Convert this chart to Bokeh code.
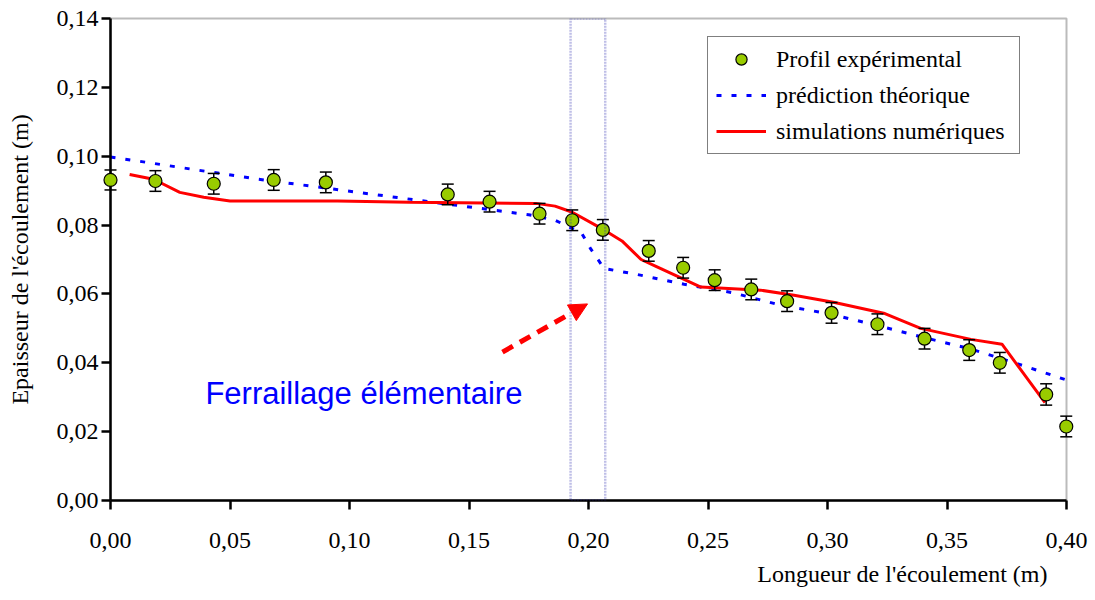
from bokeh.plotting import figure
from bokeh.models import (Range1d, FixedTicker, CustomJSTickFormatter, Legend, LegendItem,
                          Label, Arrow, NormalHead, BoxAnnotation, Title, ColumnDataSource)
from bokeh.embed import file_html
from bokeh.resources import INLINE

# ---------------- data ----------------
exp_x = [0.0, 0.0188, 0.0432, 0.0683, 0.0901, 0.1411, 0.1586, 0.1795, 0.1932, 0.2060, 0.2252,
         0.2396, 0.2528, 0.2681, 0.2831, 0.3017, 0.3209, 0.3406, 0.3593, 0.3721, 0.3915, 0.3999]
exp_y = [0.0931, 0.0928, 0.0920, 0.0931, 0.0924, 0.0889, 0.0868, 0.0833, 0.0814, 0.0786, 0.0725,
         0.0676, 0.0640, 0.0613, 0.0579, 0.0545, 0.0512, 0.0470, 0.0437, 0.0400, 0.0308, 0.0215]
exp_err = [0.0029, 0.0030, 0.0030, 0.0030, 0.0030, 0.0030, 0.0030, 0.0030, 0.0030, 0.0030, 0.0030,
           0.0030, 0.0030, 0.0030, 0.0030, 0.0030, 0.0030, 0.0030, 0.0030, 0.0030, 0.0031, 0.0030]

theory_x = [0.0, 0.06, 0.12, 0.175, 0.186, 0.197, 0.201, 0.2065, 0.22, 0.24, 0.26, 0.28, 0.30,
            0.32, 0.34, 0.36, 0.38, 0.40]
theory_y = [0.0998, 0.0935, 0.0880, 0.0830, 0.0814, 0.0778, 0.0730, 0.0674, 0.0657, 0.0628, 0.0604,
            0.0568, 0.0543, 0.0510, 0.0474, 0.0440, 0.0396, 0.0350]

sim_x = [0.008, 0.018, 0.029, 0.039, 0.050, 0.095, 0.125, 0.178, 0.186, 0.193, 0.205, 0.214,
         0.222, 0.228, 0.240, 0.247, 0.272, 0.286, 0.303, 0.324, 0.339, 0.360, 0.373, 0.391]
sim_y = [0.0947, 0.0933, 0.0895, 0.0881, 0.0870, 0.0870, 0.0866, 0.0863, 0.0855, 0.0838, 0.0792,
         0.0754, 0.0700, 0.0681, 0.0642, 0.0620, 0.0611, 0.0596, 0.0575, 0.0543, 0.0500, 0.0468,
         0.0454, 0.0284]

x_ticks = [0.0, 0.05, 0.10, 0.15, 0.20, 0.25, 0.30, 0.35, 0.40]
y_ticks = [0.0, 0.02, 0.04, 0.06, 0.08, 0.10, 0.12, 0.14]

labels = ["Profil expérimental", "prédiction théorique", "simulations numériques"]
x_title = "Longueur de l'écoulement (m)"
y_title = "Epaisseur de l'écoulement (m)"
note_text = "Ferraillage élémentaire"
note_pos = [0.0397, 0.0312]
arrow_start = [0.164, 0.0431]
arrow_end = [0.1996, 0.0571]
zone_x = [0.1925, 0.207]

SERIF = "Liberation Serif"

# ---------------- figure ----------------
p = figure(width=1090, height=596,
           x_range=Range1d(0, 0.40), y_range=Range1d(0, 0.14),
           output_backend="svg", toolbar_location=None,
           min_border_left=110, min_border_right=24, min_border_top=18, min_border_bottom=96)
p.background_fill_color = "white"
p.border_fill_color = "white"
p.outline_line_color = "#BBBBBB"
p.outline_line_width = 2
p.xgrid.visible = False
p.ygrid.visible = False

fmt = CustomJSTickFormatter(code="return tick.toFixed(2).replace('.', ',');")
for ax, ticks in ((p.xaxis[0], x_ticks), (p.yaxis[0], y_ticks)):
    ax.ticker = FixedTicker(ticks=ticks)
    ax.formatter = fmt
    ax.minor_tick_line_color = None
    ax.major_tick_in = 0
    ax.major_tick_out = 9
    ax.major_tick_line_width = 2.5
    ax.major_tick_line_color = "black"
    ax.axis_line_width = 2.5
    ax.axis_line_color = "black"
    ax.major_label_text_font = SERIF
    ax.major_label_text_font_size = "24px"
    ax.major_label_text_color = "black"
    ax.axis_label_text_font = SERIF
    ax.axis_label_text_font_size = "24px"
    ax.axis_label_text_font_style = "normal"
    ax.axis_label_text_color = "black"

p.yaxis.major_label_standoff = 3
p.yaxis.axis_label = y_title
p.yaxis.axis_label_standoff = 21
p.xaxis.major_label_standoff = 23

p.add_layout(Title(text=x_title, align="right", offset=19, standoff=16,
                   text_font=SERIF, text_font_size="24px", text_font_style="normal",
                   text_color="black"), "below")

# zone box
p.add_layout(BoxAnnotation(left=zone_x[0], right=zone_x[1], bottom=0, top=0.14,
                           fill_color=None, fill_alpha=0, line_color="#2b2bb0",
                           line_width=2.5, line_dash="2 1"))

# lines
r_th = p.line(theory_x, theory_y, line_color="#0000FF", line_width=3, line_dash="5 10")
r_sim = p.line(sim_x, sim_y, line_color="#FF0000", line_width=3)

# error bars and points
src = ColumnDataSource(dict(x=exp_x, y=exp_y,
                            lo=[a - e for a, e in zip(exp_y, exp_err)],
                            hi=[a + e for a, e in zip(exp_y, exp_err)]))
p.segment(x0="x", y0="lo", x1="x", y1="hi", source=src, line_color="black", line_width=1.5,
          level="annotation")
p.scatter(x="x", y="lo", source=src, marker="dash", size=12, line_color="black",
          line_width=1.5, level="annotation")
p.scatter(x="x", y="hi", source=src, marker="dash", size=12, line_color="black",
          line_width=1.5, level="annotation")
r_pts = p.scatter(x="x", y="y", source=src, marker="circle", size=13, fill_color="#99CC00",
                  line_color="black", line_width=1.2, level="annotation")

# annotation
p.add_layout(Arrow(x_start=arrow_start[0], y_start=arrow_start[1],
                   x_end=arrow_end[0], y_end=arrow_end[1],
                   line_color="#FF0000", line_width=5, line_dash="12 8",
                   end=NormalHead(size=18, fill_color="#FF0000", line_color="#FF0000")))
p.add_layout(Label(x=note_pos[0], y=note_pos[1], text=note_text, text_font="Liberation Sans",
                   text_font_size="31px", text_color="#0000FF", text_baseline="alphabetic"))

legend = Legend(items=[LegendItem(label=labels[0], renderers=[r_pts]),
                       LegendItem(label=labels[1], renderers=[r_th]),
                       LegendItem(label=labels[2], renderers=[r_sim])],
                location=(597, 346), label_text_font=SERIF, label_text_font_size="24px",
                label_text_color="black",
                glyph_width=50, glyph_height=28, label_height=28, label_width=235,
                label_standoff=10, spacing=8, padding=8, margin=0,
                border_line_color="black", border_line_width=1.5,
                background_fill_color="white", background_fill_alpha=1)
p.add_layout(legend)

open("out.html", "w").write(file_html(p, INLINE))
